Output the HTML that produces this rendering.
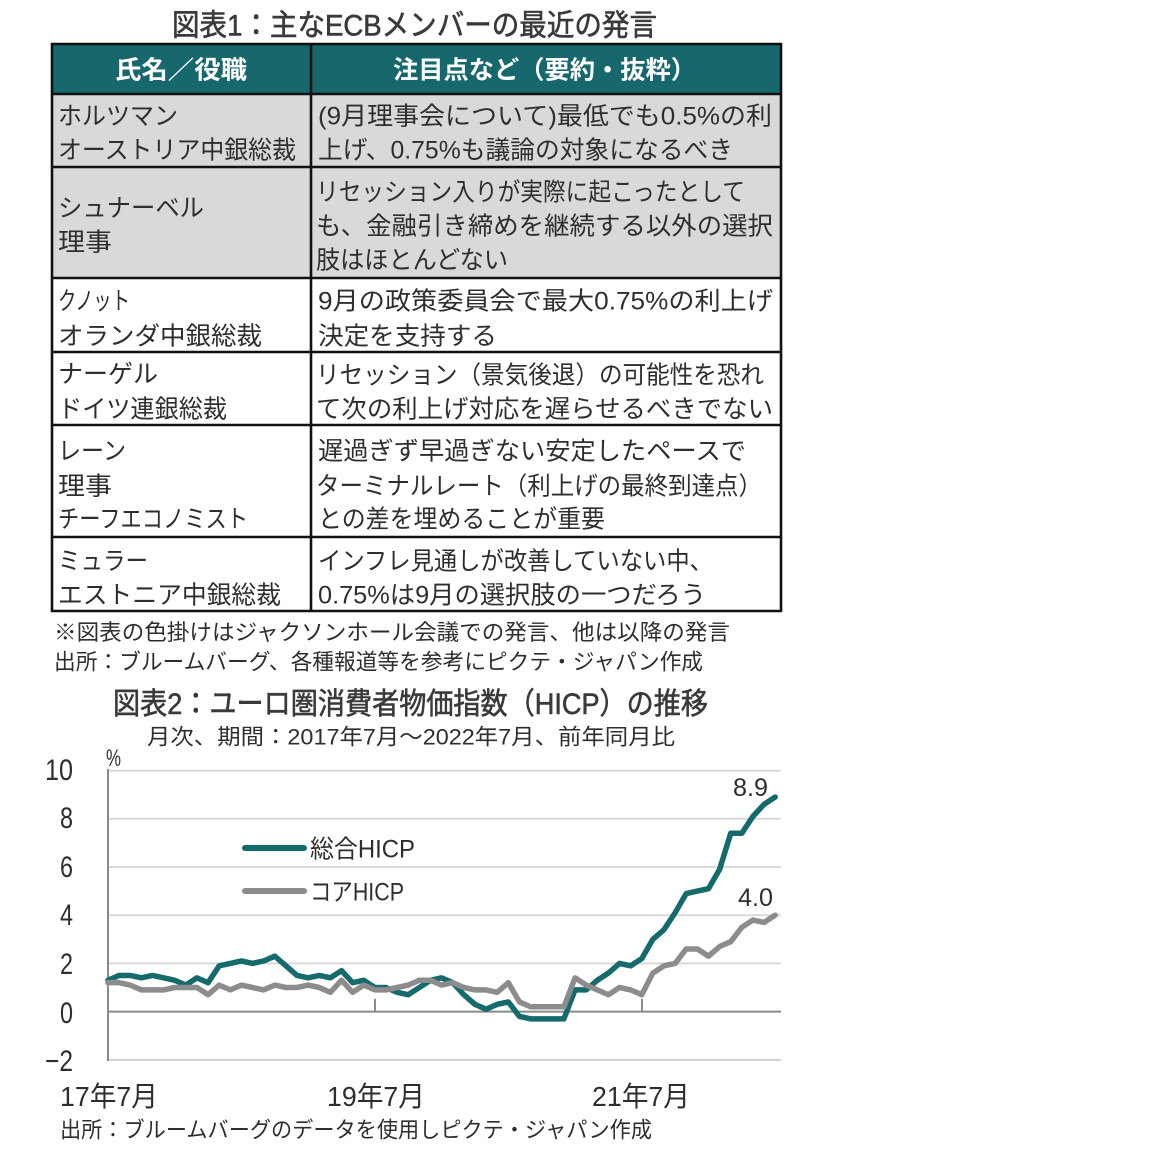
<!DOCTYPE html>
<html><head><meta charset="utf-8"><style>
html,body{margin:0;padding:0;background:#fff;}
svg{display:block;}
text{font-family:"Liberation Sans","Noto Sans CJK JP",sans-serif;fill:#2e2e2e;}
.j{font-size:25px;}
.n{font-size:22px;}
</style></head><body>
<svg width="1152" height="1165" viewBox="0 0 1152 1165" xmlns="http://www.w3.org/2000/svg">
<rect width="1152" height="1165" fill="#fff"/>
<!-- Title 1 -->
<text x="172" y="35.5" font-size="30" textLength="485" lengthAdjust="spacingAndGlyphs" stroke="#3a3a3a" stroke-width="0.6" style="fill:#3a3a3a">図表1：主なECBメンバーの最近の発言</text>
<!-- Table fills -->
<rect x="52" y="44" width="729" height="50" fill="#17686c"/>
<rect x="52" y="94" width="729" height="184" fill="#d9d9d9"/>
<!-- Header text -->
<text x="115" y="78.5" font-size="25" font-weight="700" textLength="132" lengthAdjust="spacingAndGlyphs" style="fill:#fff">氏名／役職</text>
<text x="393" y="78.5" font-size="25" font-weight="700" textLength="303" lengthAdjust="spacingAndGlyphs" style="fill:#fff">注目点など（要約・抜粋）</text>
<!-- Table lines -->
<g stroke="#111" stroke-width="2.6" fill="none">
<line x1="51" y1="44" x2="782" y2="44"/>
<line x1="51" y1="94" x2="782" y2="94"/>
<line x1="51" y1="167" x2="782" y2="167"/>
<line x1="51" y1="278" x2="782" y2="278"/>
<line x1="51" y1="352" x2="782" y2="352"/>
<line x1="51" y1="425" x2="782" y2="425"/>
<line x1="51" y1="537" x2="782" y2="537"/>
<line x1="51" y1="611" x2="782" y2="611"/>
<line x1="52" y1="43" x2="52" y2="612"/>
<line x1="311" y1="43" x2="311" y2="612"/>
<line x1="781" y1="43" x2="781" y2="612"/>
</g>
<!-- Rows -->
<g class="j">
<text class="j" x="58" y="124.5" textLength="120" lengthAdjust="spacingAndGlyphs">ホルツマン</text>
<text class="j" x="58" y="158.5" textLength="238" lengthAdjust="spacingAndGlyphs">オーストリア中銀総裁</text>
<text class="j" x="318" y="124.5" textLength="454" lengthAdjust="spacingAndGlyphs">(9月理事会について)最低でも0.5%の利</text>
<text class="j" x="318" y="158.5" textLength="415" lengthAdjust="spacingAndGlyphs">上げ、0.75%も議論の対象になるべき</text>

<text class="j" x="58" y="216.5" textLength="146" lengthAdjust="spacingAndGlyphs">シュナーベル</text>
<text class="j" x="58" y="250.5" textLength="54" lengthAdjust="spacingAndGlyphs">理事</text>
<text class="j" x="316" y="200.5" textLength="429" lengthAdjust="spacingAndGlyphs">リセッション入りが実際に起こったとして</text>
<text class="j" x="316" y="234.5" textLength="457" lengthAdjust="spacingAndGlyphs">も、金融引き締めを継続する以外の選択</text>
<text class="j" x="316" y="268.5" textLength="192" lengthAdjust="spacingAndGlyphs">肢はほとんどない</text>

<text class="j" x="58" y="309.5" textLength="72" lengthAdjust="spacingAndGlyphs">クノット</text>
<text class="j" x="58" y="344.5" textLength="204" lengthAdjust="spacingAndGlyphs">オランダ中銀総裁</text>
<text class="j" x="318" y="309.5" textLength="455" lengthAdjust="spacingAndGlyphs">9月の政策委員会で最大0.75%の利上げ</text>
<text class="j" x="318" y="344.5" textLength="179" lengthAdjust="spacingAndGlyphs">決定を支持する</text>

<text class="j" x="58" y="382.5" textLength="100" lengthAdjust="spacingAndGlyphs">ナーゲル</text>
<text class="j" x="58" y="417.5" textLength="169" lengthAdjust="spacingAndGlyphs">ドイツ連銀総裁</text>
<text class="j" x="316" y="383.5" textLength="448" lengthAdjust="spacingAndGlyphs">リセッション（景気後退）の可能性を恐れ</text>
<text class="j" x="316" y="417.5" textLength="457" lengthAdjust="spacingAndGlyphs">て次の利上げ対応を遅らせるべきでない</text>

<text class="j" x="58" y="459.5" textLength="68" lengthAdjust="spacingAndGlyphs">レーン</text>
<text class="j" x="58" y="494.5" textLength="54" lengthAdjust="spacingAndGlyphs">理事</text>
<text class="j" x="58" y="527.5" textLength="190" lengthAdjust="spacingAndGlyphs">チーフエコノミスト</text>
<text class="j" x="318" y="459.5" textLength="428" lengthAdjust="spacingAndGlyphs">遅過ぎず早過ぎない安定したペースで</text>
<text class="j" x="316" y="494.5" textLength="446" lengthAdjust="spacingAndGlyphs">ターミナルレート（利上げの最終到達点）</text>
<text class="j" x="318" y="527.5" textLength="287" lengthAdjust="spacingAndGlyphs">との差を埋めることが重要</text>

<text class="j" x="58" y="569.5" textLength="90" lengthAdjust="spacingAndGlyphs">ミュラー</text>
<text class="j" x="58" y="603.5" textLength="223" lengthAdjust="spacingAndGlyphs">エストニア中銀総裁</text>
<text class="j" x="318" y="569.5" textLength="395" lengthAdjust="spacingAndGlyphs">インフレ見通しが改善していない中、</text>
<text class="j" x="318" y="603.5" textLength="388" lengthAdjust="spacingAndGlyphs">0.75%は9月の選択肢の一つだろう</text>
</g>
<!-- Notes -->
<text class="n" x="54" y="640" textLength="676" lengthAdjust="spacingAndGlyphs">※図表の色掛けはジャクソンホール会議での発言、他は以降の発言</text>
<text class="n" x="54" y="669.5" textLength="649" lengthAdjust="spacingAndGlyphs">出所：ブルームバーグ、各種報道等を参考にピクテ・ジャパン作成</text>
<!-- Title 2 -->
<text x="113" y="714" font-size="30" textLength="595" lengthAdjust="spacingAndGlyphs" stroke="#3a3a3a" stroke-width="0.6" style="fill:#3a3a3a">図表2：ユーロ圏消費者物価指数（HICP）の推移</text>
<text class="n" x="147" y="744.5" textLength="528" lengthAdjust="spacingAndGlyphs">月次、期間：2017年7月～2022年7月、前年同月比</text>
<text x="106" y="766" font-size="24" textLength="15" lengthAdjust="spacingAndGlyphs">%</text>
<!-- Gridlines -->
<g stroke="#d9d9d9" stroke-width="2">
<line x1="108" y1="770.7" x2="781" y2="770.7"/>
<line x1="108" y1="818.8" x2="781" y2="818.8"/>
<line x1="108" y1="867" x2="781" y2="867"/>
<line x1="108" y1="915.2" x2="781" y2="915.2"/>
<line x1="108" y1="963.4" x2="781" y2="963.4"/>
<line x1="108" y1="1059.9" x2="781" y2="1059.9" stroke="#cfcfcf"/>
</g>
<g stroke="#8a8a8a" stroke-width="2">
<line x1="108" y1="1011.6" x2="781" y2="1011.6"/>
<line x1="108" y1="769" x2="108" y2="1061"/>
<line x1="375" y1="999" x2="375" y2="1011.6"/>
<line x1="642" y1="999" x2="642" y2="1011.6"/>
</g>
<!-- Y labels -->
<g font-size="30">
<text x="45" y="780" textLength="28" lengthAdjust="spacingAndGlyphs">10</text>
<text x="60" y="828" textLength="13" lengthAdjust="spacingAndGlyphs">8</text>
<text x="60" y="877" textLength="13" lengthAdjust="spacingAndGlyphs">6</text>
<text x="60" y="925" textLength="13" lengthAdjust="spacingAndGlyphs">4</text>
<text x="60" y="974" textLength="13" lengthAdjust="spacingAndGlyphs">2</text>
<text x="60" y="1023" textLength="13" lengthAdjust="spacingAndGlyphs">0</text>
<text x="45" y="1071" textLength="28" lengthAdjust="spacingAndGlyphs">−2</text>
</g>
<!-- X labels -->
<g font-size="28">
<text x="60" y="1106" textLength="98" lengthAdjust="spacingAndGlyphs">17年7月</text>
<text x="327" y="1106" textLength="98" lengthAdjust="spacingAndGlyphs">19年7月</text>
<text x="592" y="1106" textLength="98" lengthAdjust="spacingAndGlyphs">21年7月</text>
</g>
<text class="n" x="60" y="1137.5" textLength="592" lengthAdjust="spacingAndGlyphs">出所：ブルームバーグのデータを使用しピクテ・ジャパン作成</text>
<!-- Series -->
<g transform="translate(108,1011.6) scale(11.12,-24.1)">
<polyline fill="none" stroke="#156a6c" stroke-width="5.5" stroke-linejoin="round" stroke-linecap="round" vector-effect="non-scaling-stroke"
points="0,1.3 1,1.5 2,1.5 3,1.4 4,1.5 5,1.4 6,1.3 7,1.1 8,1.4 9,1.2 10,1.9 11,2.0 12,2.1 13,2.0 14,2.1 15,2.3 16,1.9 17,1.5 18,1.4 19,1.5 20,1.4 21,1.7 22,1.2 23,1.3 24,1.0 25,1.0 26,0.8 27,0.7 28,1.0 29,1.3 30,1.4 31,1.2 32,0.7 33,0.3 34,0.1 35,0.3 36,0.4 37,-0.2 38,-0.3 39,-0.3 40,-0.3 41,-0.3 42,0.9 43,0.9 44,1.3 45,1.6 46,2.0 47,1.9 48,2.2 49,3.0 50,3.4 51,4.1 52,4.9 53,5.0 54,5.1 55,5.9 56,7.4 57,7.4 58,8.1 59,8.6 60,8.9"/>
<polyline fill="none" stroke="#8c8c8c" stroke-width="5.5" stroke-linejoin="round" stroke-linecap="round" vector-effect="non-scaling-stroke"
points="0,1.2 1,1.2 2,1.1 3,0.9 4,0.9 5,0.9 6,1.0 7,1.0 8,1.0 9,0.7 10,1.1 11,0.9 12,1.1 13,1.0 14,0.9 15,1.1 16,1.0 17,1.0 18,1.1 19,1.0 20,0.8 21,1.3 22,0.8 23,1.1 24,0.9 25,0.9 26,1.0 27,1.1 28,1.3 29,1.3 30,1.1 31,1.2 32,1.0 33,0.9 34,0.9 35,0.8 36,1.2 37,0.4 38,0.2 39,0.2 40,0.2 41,0.2 42,1.4 43,1.1 44,0.9 45,0.7 46,1.0 47,0.9 48,0.7 49,1.6 50,1.9 51,2.0 52,2.6 53,2.6 54,2.3 55,2.7 56,2.9 57,3.5 58,3.8 59,3.7 60,4.0"/>
</g>
<!-- Legend -->
<line x1="245" y1="848" x2="304" y2="848" stroke="#156a6c" stroke-width="6" stroke-linecap="round"/>
<line x1="245" y1="891" x2="304" y2="891" stroke="#8c8c8c" stroke-width="6" stroke-linecap="round"/>
<text x="310" y="857.5" font-size="25" textLength="105" lengthAdjust="spacingAndGlyphs">総合HICP</text>
<text x="310" y="900.5" font-size="25" textLength="94" lengthAdjust="spacingAndGlyphs">コアHICP</text>
<text x="733" y="796" font-size="25" textLength="35" lengthAdjust="spacingAndGlyphs">8.9</text>
<text x="738" y="906" font-size="25" textLength="35" lengthAdjust="spacingAndGlyphs">4.0</text>
</svg>
</body></html>
